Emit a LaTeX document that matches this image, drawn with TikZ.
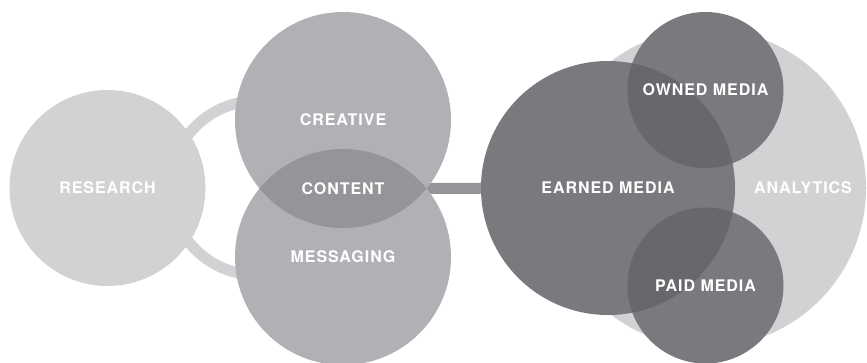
\documentclass[tikz,border=0pt]{standalone}
\usepackage{fontspec}
\setmainfont{TeX Gyre Heros}[LetterSpace=6]
\definecolor{pale}{RGB}{209,210,212}
\definecolor{mid}{RGB}{176,177,180}
\definecolor{midover}{RGB}{148,149,152}
\definecolor{deep}{RGB}{121,122,126}
\definecolor{deepover}{RGB}{103,104,108}

\begin{document}
\begin{tikzpicture}
	[x=0.75pt,y=-0.75pt,
	 disc/.style={circle,inner sep=0pt,minimum size=1.5*#1 pt},
	 ring/.style={draw=pale,line width=8.25pt},
	 bridge/.style={draw=midover,line width=8.25pt},
	 word/.style={text=white,font=\bfseries\fontsize{12}{14}\selectfont,inner sep=0pt}];
\path[fill=white,use as bounding box] (0,0) rectangle (867,362);

% links behind the circles
\coordinate (hub) at (257,188);
\coordinate (content) at (343,188.5);
\coordinate (earnedc) at (608,188);
\draw[ring] (hub) circle[radius=87];
\draw[bridge] (content) -- (earnedc);

% research, creative, messaging
\node[disc=98,fill=pale] (research) at (107.5,188) {};
\node[disc=108,fill=mid] (creative) at (343,120) {};
\node[disc=108,fill=mid] (messaging) at (343,257) {};
\begin{scope}
	\clip (creative.center) circle[radius=108];
	\fill[midover] (messaging.center) circle[radius=108];
\end{scope}

% media circles
\node[disc=159,fill=pale] (analytics) at (707,188) {};
\node[disc=127,fill=deep] (earned) at (earnedc) {};
\node[disc=78,fill=deep] (owned) at (705.5,90) {};
\node[disc=78,fill=deep] (paid) at (705.5,285.5) {};
\begin{scope}
	\clip (earned.center) circle[radius=127];
	\fill[deepover] (owned.center) circle[radius=78];
	\fill[deepover] (paid.center) circle[radius=78];
\end{scope}

\node[word] at (research) {RESEARCH};
\node[word] at (creative) {CREATIVE};
\node[word] at (content) {CONTENT};
\node[word] at (messaging) {MESSAGING};
\node[word] at (earned) {EARNED MEDIA};
\node[word] at (owned) {OWNED MEDIA};
\node[word] at (paid) {PAID MEDIA};
\node[word] at (803,188) {ANALYTICS};
\end{tikzpicture}
\end{document}
